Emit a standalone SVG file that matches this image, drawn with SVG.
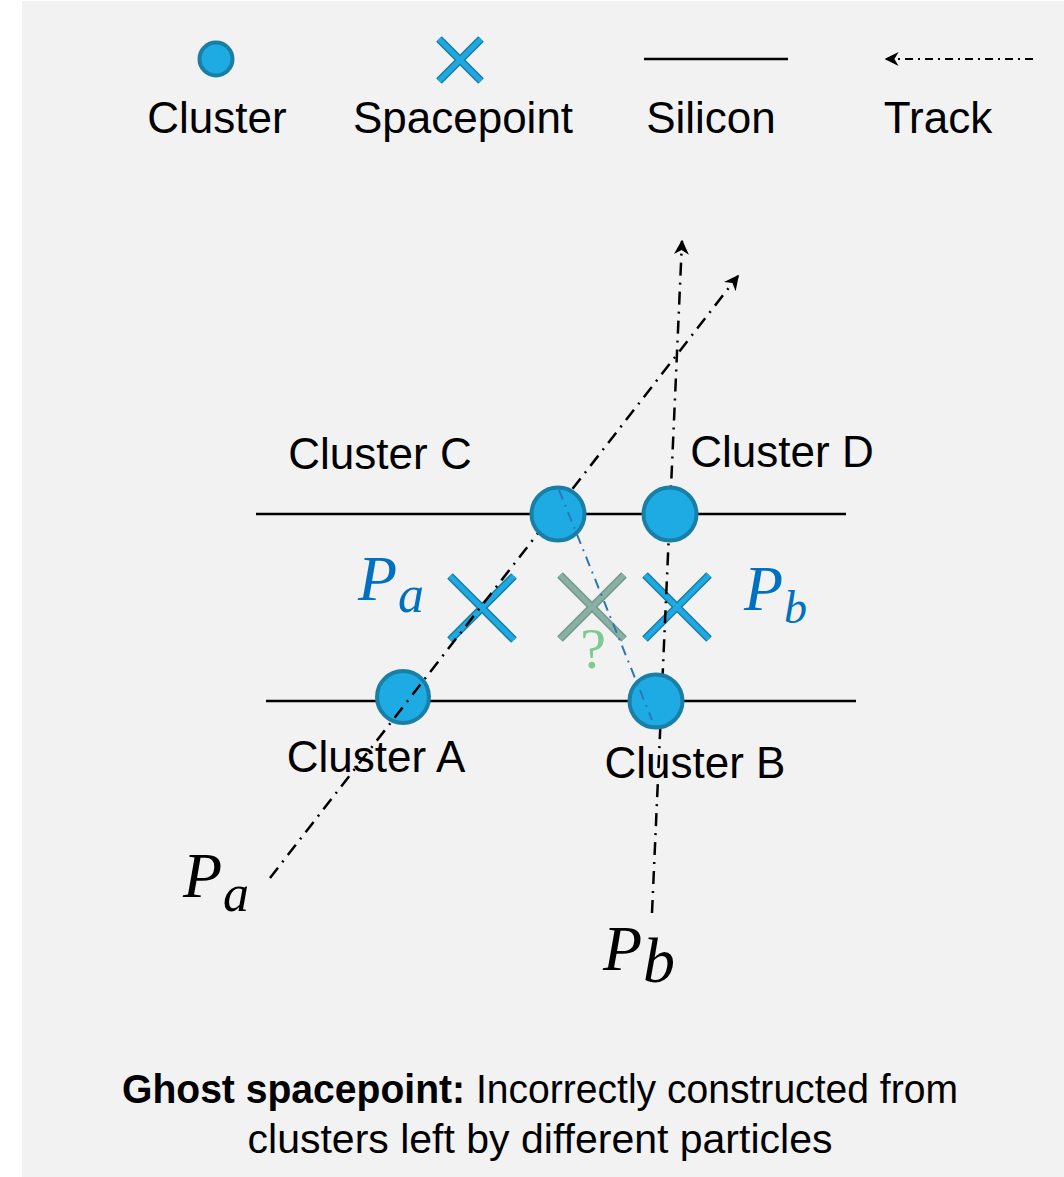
<svg xmlns="http://www.w3.org/2000/svg" width="1064" height="1177" viewBox="0 0 1064 1177">
<style>
.lbl{font-family:"Liberation Sans",Arial,sans-serif;font-size:44px;fill:#000}
.clu{fill:#1eabe3;stroke:#197fa6;stroke-width:4}
.sil{stroke:#000;stroke-width:2.5;fill:none}
.trk{stroke:#000;stroke-width:2.5;fill:none;stroke-dasharray:13 7 2 7}
.xo{stroke:#1a7ea6;stroke-width:8;fill:none}
.xi{stroke:#1fa9e0;stroke-width:5;fill:none}
.go{stroke:#6f9a8c;stroke-width:8;fill:none}
.gi{stroke:#8ab0a3;stroke-width:5;fill:none}
.math{font-family:"Liberation Serif","Times New Roman",serif;font-style:italic}
.bot{font-family:"Liberation Sans",Arial,sans-serif;font-size:41px;fill:#000}
</style>
<defs>
<marker id="arr" viewBox="0 0 10 10" refX="9" refY="5" markerWidth="15" markerHeight="15" orient="auto" markerUnits="userSpaceOnUse">
<path d="M0,0 L10,5 L0,10 L3,5 z" fill="#000"/>
</marker>
<marker id="arrb" viewBox="0 0 10 10" refX="9" refY="5" markerWidth="14" markerHeight="14" orient="auto" markerUnits="userSpaceOnUse">
<path d="M0,0 L10,5 L0,10 L3,5 z" fill="#000"/>
</marker>
</defs>
<rect x="0" y="0" width="1064" height="1177" fill="#ffffff"/>
<rect x="22" y="1" width="1042" height="1176" fill="#f2f2f2"/>

<g id="legend">
<g id="legend-cluster">
<circle class="clu" cx="216" cy="59" r="16.5"/>
<text class="lbl" x="217" y="133" text-anchor="middle">Cluster</text>
</g>
<g id="legend-spacepoint">
<path class="xo" d="M439,39 L481,81 M481,39 L439,81"/>
<path class="xi" d="M439,39 L481,81 M481,39 L439,81"/>
<text class="lbl" x="463" y="133" text-anchor="middle">Spacepoint</text>
</g>
<g id="legend-silicon">
<line class="sil" x1="644" y1="59" x2="788" y2="59"/>
<text class="lbl" x="711" y="133" text-anchor="middle">Silicon</text>
</g>
<g id="legend-track">
<line x1="1033" y1="59" x2="886" y2="59" stroke="#000" stroke-width="2" stroke-dasharray="8 5 2 5" marker-end="url(#arrb)"/>
<text class="lbl" x="938" y="133" text-anchor="middle">Track</text>
</g>
</g>

<g id="silicon-layers">
<line class="sil" x1="256" y1="514" x2="846" y2="514"/>
<line class="sil" x1="266" y1="701" x2="856" y2="701"/>
</g>

<g id="spacepoints">
<g id="spacepoint-a">
<path class="xo" d="M450,576 L514,640 M514,576 L450,640"/>
<path class="xi" d="M450,576 L514,640 M514,576 L450,640"/>
</g>
<g id="spacepoint-ghost">
<path class="go" d="M560,575 L624,639 M624,575 L560,639"/>
<path class="gi" d="M560,575 L624,639 M624,575 L560,639"/>
<text x="593" y="668" font-family="Liberation Serif,'Times New Roman',serif" font-size="58" fill="#7dc98e" text-anchor="middle">?</text>
</g>
<g id="spacepoint-b">
<path class="xo" d="M645,575 L709,639 M709,575 L645,639"/>
<path class="xi" d="M645,575 L709,639 M709,575 L645,639"/>
</g>
</g>

<g id="cluster-labels">
<text class="lbl" x="380" y="469" text-anchor="middle" font-size="43">Cluster C</text>
<text class="lbl" x="782" y="467" text-anchor="middle" font-size="43">Cluster D</text>
<text class="lbl" x="376" y="772" text-anchor="middle" font-size="43">Cluster A</text>
<text class="lbl" x="695" y="778" text-anchor="middle" font-size="43">Cluster B</text>
</g>

<g id="cluster-A"><circle class="clu" cx="403" cy="697" r="26"/></g>

<g id="connectors">
<line id="track-a" class="trk" x1="270" y1="878" x2="738" y2="276" marker-end="url(#arr)"/>
<line id="track-b" class="trk" x1="652" y1="913" x2="682" y2="241" marker-end="url(#arr)"/>
</g>

<g id="cluster-C"><circle class="clu" cx="558" cy="514" r="26.5"/></g>
<g id="cluster-D"><circle class="clu" cx="670" cy="514" r="26.5"/></g>
<g id="cluster-B"><circle class="clu" cx="656" cy="701" r="26.5"/></g>

<g id="ghost-link">
<line x1="559" y1="490" x2="652" y2="720" stroke="#2e75b6" stroke-width="2" stroke-dasharray="10 6 2 6"/>
</g>

<g id="particle-labels">
<text class="math" x="358" y="600" font-size="64" fill="#0070c0">P<tspan font-size="52" dx="1" dy="12">a</tspan></text>
<text class="math" x="744" y="610" font-size="64" fill="#0070c0">P<tspan font-size="46" dx="1" dy="13">b</tspan></text>
<text class="math" x="183" y="897" font-size="64" fill="#000">P<tspan font-size="52" dx="1" dy="14">a</tspan></text>
<text class="math" x="603" y="970" font-size="64" fill="#000">P<tspan font-size="64" dx="1" dy="12">b</tspan></text>
</g>

<g id="caption">
<text class="bot" x="540" y="1103" text-anchor="middle" textLength="836" lengthAdjust="spacingAndGlyphs"><tspan font-weight="bold">Ghost spacepoint:</tspan> Incorrectly constructed from</text>
<text class="bot" x="540" y="1153" text-anchor="middle">clusters left by different particles</text>
</g>
</svg>
